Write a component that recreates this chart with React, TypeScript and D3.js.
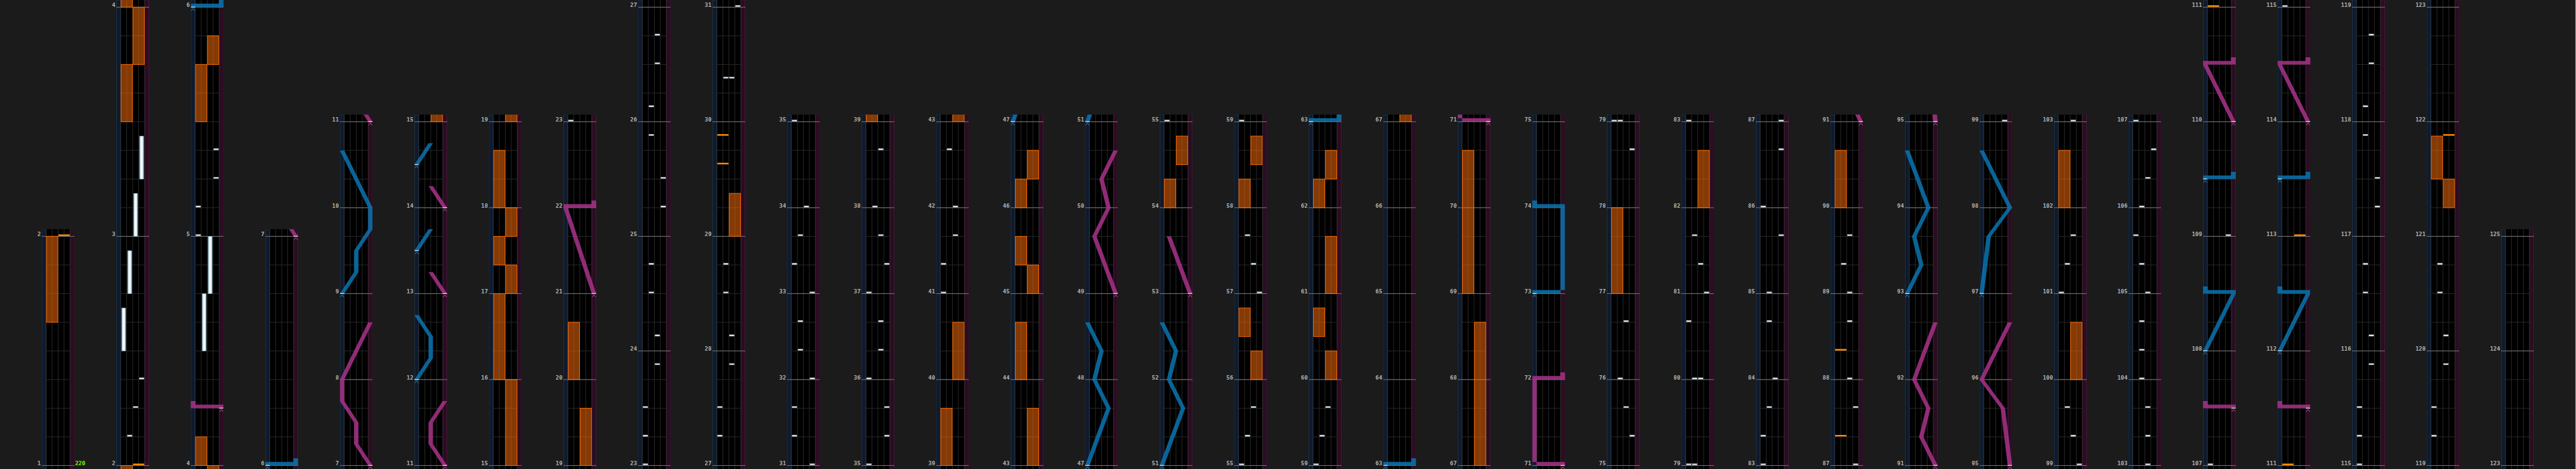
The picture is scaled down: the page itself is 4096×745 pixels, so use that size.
import React from 'react';
import * as d3 from 'd3';

// time signatures: [first measure, beats per measure]
const timeSigs: [number, number][] = [[1, 8], [7, 3], [23, 4], [31, 3], [107, 4]];
// measure numbers where each column starts (last one closes the final column)
const pageBreaks = [1, 2, 4, 6, 7, 11, 15, 19, 23, 27, 31, 35, 39, 43, 47, 51, 55, 59, 63, 67, 71, 75, 79, 83, 87, 91, 95, 99, 103, 107, 111, 115, 119, 123, 125];
const bpmMarks: [number, number, string][] = [[1, 0, '220']];

// [measure, beat, lane]
const btChips: [number, number, number][] = [
  [2, 1, 1], [2, 2, 2], [2, 3, 3],
  [5, 0, 0], [5, 1, 0], [5, 2, 3], [5, 3, 3],
  [23, 0, 0], [23, 1, 0], [23, 2, 0], [23, 3.5, 2], [24, 0.5, 2], [24, 2, 1], [24, 3, 1],
  [25, 1, 3], [25, 2, 3], [25, 3.5, 1], [26, 0.5, 1], [26, 2, 2], [26, 3, 2],
  [27, 1, 0], [27, 2, 0], [27, 3.5, 2], [28, 0.5, 2], [28, 2, 1], [28, 3, 1],
  [30, 1.5, 1], [30, 1.5, 2],
  [31, 0, 3], [31, 1, 0], [31, 2, 0], [32, 0, 3], [32, 1, 1], [32, 2, 1],
  [33, 0, 3], [33, 1, 0], [33, 2, 1], [34, 0, 2],
  [35, 0, 0], [35, 1, 3], [35, 2, 3], [36, 0, 0], [36, 1, 2], [36, 2, 2],
  [37, 0, 0], [37, 1, 3], [37, 2, 2], [38, 0, 1], [38, 2, 2],
  [41, 0, 0], [41, 1, 0], [41, 2, 2], [42, 0, 2], [42, 2, 1],
  [55, 0, 0], [55, 1, 1], [55, 2, 2], [57, 0, 3], [57, 1, 2], [57, 2, 1],
  [59, 0, 0], [59, 1, 1], [59, 2, 2],
  [75, 1, 3], [75, 2, 2], [76, 0, 1], [76, 2, 2], [78, 2, 3],
  [79, 0, 0], [79, 0, 1], [80, 0, 1], [80, 0, 2], [80, 2, 0],
  [81, 0, 3], [81, 1, 2], [81, 2, 1],
  [83, 0, 0], [83, 1, 0], [83, 2, 1], [84, 0, 2], [84, 2, 1], [85, 0, 1], [85, 2, 3], [86, 0, 0], [86, 2, 3],
  [87, 0, 3], [87, 2, 3], [88, 0, 2], [88, 2, 2], [89, 0, 2], [89, 1, 1], [89, 2, 2],
  [99, 0, 3], [99, 1, 2], [99, 2, 1], [101, 0, 0], [101, 1, 1], [101, 2, 2],
  [103, 0, 2], [103, 1, 2], [103, 2, 2], [104, 0, 1], [104, 1, 1], [104, 2, 1],
  [105, 0, 2], [105, 1, 1], [105, 2, 0], [106, 0, 1], [106, 1, 2], [106, 2, 3],
  [107, 0, 0], [109, 0, 3],
  [115, 0, 0], [115, 1, 0], [115, 2, 0], [115, 3.5, 2], [116, 0.5, 2], [116, 2, 1], [116, 3, 1],
  [117, 1, 3], [117, 2, 3], [117, 3.5, 1], [118, 0.5, 1], [118, 2, 2], [118, 3, 2],
  [119, 1, 0], [119, 2, 0], [119, 3.5, 2], [120, 0.5, 2], [120, 2, 1], [120, 3, 1],
];

// [measure, beat, length in beats, lane]
const btHolds: [number, number, number, number][] = [
  [2, 4, 1.5, 0], [2, 6, 1.5, 1], [3, 0, 1.5, 2], [3, 2, 1.5, 3], [4, 4, 2, 1], [4, 6, 2, 2],
];

// [measure, beat, side]
const fxChips: [number, number, number][] = [
  [2, 0, 1], [29, 2.5, 0], [29, 3.5, 0], [87, 1, 0], [88, 1, 0], [111, 0, 0], [113, 0, 1], [121, 3.5, 1],
];

// [measure, beat, length in beats, side]
const fxHolds: [number, number, number, number][] = [
  [1, 5, 3, 0], [3, 4, 2, 0], [3, 6, 2, 1], [4, 0, 1, 0], [5, 4, 2, 0], [5, 6, 1, 1],
  [15, 0, 3, 1], [16, 0, 3, 0], [17, 0, 1, 1], [17, 1, 1, 0], [17, 2, 1, 1], [18, 0, 2, 0],
  [19, 0, 2, 1], [20, 0, 2, 0], [29, 0, 1.5, 1],
  [39, 0, 2, 0], [40, 0, 2, 1], [43, 0, 2, 1], [44, 0, 2, 0], [45, 0, 1, 1], [45, 1, 1, 0],
  [46, 0, 1, 0], [46, 1, 1, 1], [54, 0, 1, 0], [54, 1.5, 1, 1],
  [56, 0, 1, 1], [56, 1.5, 1, 0], [58, 0, 1, 0], [58, 1.5, 1, 1],
  [60, 0, 1, 1], [60, 1.5, 1, 0], [61, 0, 2, 1], [62, 0, 1, 0], [62, 1, 1, 1],
  [67, 0, 5, 1], [69, 0, 5, 0], [77, 0, 3, 0], [82, 0, 2, 1], [90, 0, 2, 0],
  [100, 0, 2, 1], [102, 0, 2, 0], [121, 1, 1, 1], [121, 2, 1.5, 0],
];

// lasers: L = blue (left knob), R = pink (right knob); points [measure, beat, position 0..1]
const lasers: { side: 'L' | 'R'; pts: [number, number, number][] }[] = [
  { side: 'R', pts: [[4, 2, 1], [4, 2, 0]] },
  { side: 'L', pts: [[6, 0, 0], [6, 0, 1]] },
  { side: 'R', pts: [[7, 0, 1], [7, 0.75, 0.5], [7, 1.5, 0.5], [7, 2.25, 0], [8, 0, 0], [8, 2, 1]] },
  { side: 'L', pts: [[9, 0, 0], [9, 0.75, 0.5], [9, 1.5, 0.5], [9, 2.25, 1], [10, 0, 1], [10, 2, 0]] },
  { side: 'R', pts: [[11, 0, 1], [11, 0.75, 0.5], [11, 1.5, 0.5], [11, 2.25, 1]] },
  { side: 'L', pts: [[12, 0, 0], [12, 0.75, 0.5], [12, 1.5, 0.5], [12, 2.25, 0]] },
  { side: 'R', pts: [[13, 0, 1], [13, 0.75, 0.5]] },
  { side: 'L', pts: [[13, 1.5, 0], [13, 2.25, 0.5]] },
  { side: 'R', pts: [[14, 0, 1], [14, 0.75, 0.5]] },
  { side: 'L', pts: [[14, 1.5, 0], [14, 2.25, 0.5]] },
  { side: 'R', pts: [[21, 0, 1], [22, 0, 0], [22, 0, 1]] },
  { side: 'L', pts: [[47, 0, 0], [47, 2, 0.75], [48, 0, 0.25], [48, 1, 0.5], [48, 2, 0]] },
  { side: 'R', pts: [[49, 0, 1], [49, 2, 0.25], [50, 0, 0.75], [50, 1, 0.5], [50, 2, 1]] },
  { side: 'L', pts: [[51, 0, 0], [51, 2, 0.75], [52, 0, 0.25], [52, 1, 0.5], [52, 2, 0]] },
  { side: 'R', pts: [[53, 0, 1], [53, 2, 0.25]] },
  { side: 'L', pts: [[63, 0, 0], [63, 0, 1]] },
  { side: 'R', pts: [[71, 0, 1], [71, 0, 0], [72, 0, 0], [72, 0, 1]] },
  { side: 'L', pts: [[73, 0, 0], [73, 0, 1], [74, 0, 1], [74, 0, 0]] },
  { side: 'R', pts: [[91, 0, 1], [91, 1, 0.5], [91, 2, 0.75], [92, 0, 0.25], [92, 2, 1]] },
  { side: 'L', pts: [[93, 0, 0], [93, 1, 0.5], [93, 2, 0.25], [94, 0, 0.75], [94, 2, 0]] },
  { side: 'R', pts: [[95, 0, 1], [95, 2, 0.75], [96, 0, 0], [96, 2, 1]] },
  { side: 'L', pts: [[97, 0, 0], [97, 2, 0.25], [98, 0, 1], [98, 2, 0]] },
  { side: 'R', pts: [[107, 2, 1], [107, 2, 0]] },
  { side: 'L', pts: [[108, 0, 0], [108, 2, 1], [108, 2, 0]] },
  { side: 'L', pts: [[109, 2, 0], [109, 2, 1]] },
  { side: 'R', pts: [[110, 0, 1], [110, 2, 0], [110, 2, 1]] },
  { side: 'R', pts: [[111, 2, 1], [111, 2, 0]] },
  { side: 'L', pts: [[112, 0, 0], [112, 2, 1], [112, 2, 0]] },
  { side: 'L', pts: [[113, 2, 0], [113, 2, 1]] },
  { side: 'R', pts: [[114, 0, 1], [114, 2, 0], [114, 2, 1]] },
];

const W = 4320;
const H = 786;
const S = 0.948;
const BEAT = 48;
const BASE = 780;
const COLW = 55;
const STRIP = 7.5;
const LANE = 10;

const beatsIn = (m: number) => {
  let n = timeSigs[0][1];
  for (const [s, b] of timeSigs) if (m >= s) n = b;
  return n;
};
const measureStart: number[] = [];
{
  let acc = 0;
  for (let m = 1; m <= 130; m++) {
    measureStart[m] = acc;
    acc += beatsIn(m);
  }
}
const abs = (m: number, b: number) => measureStart[m] + b;

const colX = d3.scaleLinear().domain([0, 1]).range([70, 195]);
const laneX = d3.scaleLinear().domain([0, 4]).range([STRIP, STRIP + 4 * LANE]);
const laserX = d3.scaleLinear().domain([0, 1]).range([STRIP / 2, COLW - STRIP / 2]);

const columns = d3.pairs(pageBreaks).map(([a, b], i) => {
  const s = abs(a, 0);
  const e = abs(b, 0);
  const y = d3.scaleLinear().domain([s, e]).range([BASE, BASE - BEAT * (e - s)]);
  return { i, a, b, s, e, x: colX(i), y, top: y(e) - 12 };
});

const COLORS = {
  bg: '#1b1b1b',
  lane: '#2b2b2b',
  beat: '#2b2b2b',
  measure: '#808080',
  L: '#0b74b0',
  R: '#a9328a',
  Lmark: '#3a86b8',
  Rmark: '#c0569c',
};

function laserPath(pts: [number, number, number][], y: (t: number) => number) {
  const p = d3.path();
  const hw = STRIP / 2;
  for (let k = 0; k < pts.length - 1; k++) {
    const [m1, b1, v1] = pts[k];
    const [m2, b2, v2] = pts[k + 1];
    const t1 = abs(m1, b1);
    const t2 = abs(m2, b2);
    if (t1 === t2) {
      const yy = y(t1);
      const x1 = Math.min(laserX(v1), laserX(v2)) - hw;
      const x2 = Math.max(laserX(v1), laserX(v2)) + hw;
      p.rect(x1, yy - 6, x2 - x1, 6);
      if (k + 1 === pts.length - 1) {
        p.rect(laserX(v2) - hw - 0.5, yy - 12, STRIP + 1, 12);
      }
    } else {
      const y1 = y(t1);
      const y2 = y(t2);
      const c1 = laserX(v1);
      const c2 = laserX(v2);
      p.moveTo(c1 - hw, y1);
      p.lineTo(c1 + hw, y1);
      p.lineTo(c2 + hw, y2);
      p.lineTo(c2 - hw, y2);
      p.closePath();
    }
  }
  return p.toString();
}

function Column({ c }: { c: (typeof columns)[number] }) {
  const lo = c.s - 1;
  const hi = c.e + 1;
  const beatLines = d3.range(Math.ceil(c.s), c.e + 0.001, 1);
  const measures = d3.range(c.a, c.b + 1);
  const inView = (t0: number, t1: number) => t1 >= lo && t0 <= hi;
  return (
    <g transform={`translate(${c.x},0)`}>
      <clipPath id={`clip${c.i}`}>
        <rect x={0} y={c.top} width={COLW} height={H - c.top + 20} />
      </clipPath>
      <g clipPath={`url(#clip${c.i})`}>
        <rect x={0} y={c.top} width={COLW} height={H} fill="#000" />
        <rect x={0.5} y={c.top} width={STRIP - 1} height={H} fill="#0f1a2d" stroke="#1f3a54" strokeWidth={1} />
        <rect x={COLW - STRIP + 0.5} y={c.top} width={STRIP - 1} height={H} fill="#2a0d20" stroke="#47183a" strokeWidth={1} />
        {d3.range(0, 5).map((k) => (
          <line key={`l${k}`} x1={laneX(k)} x2={laneX(k)} y1={c.top} y2={H + 10} stroke={COLORS.lane} strokeWidth={1} />
        ))}
        {beatLines.map((t) => (
          <line key={`b${t}`} x1={laneX(0)} x2={laneX(4)} y1={c.y(t)} y2={c.y(t)} stroke={COLORS.beat} strokeWidth={1} />
        ))}
        {measures.map((m) => (
          <line key={`m${m}`} x1={0} x2={COLW} y1={c.y(abs(m, 0))} y2={c.y(abs(m, 0))} stroke={COLORS.measure} strokeWidth={1} />
        ))}
        {fxHolds.filter(([m, b, len]) => inView(abs(m, b), abs(m, b) + len)).map(([m, b, len, side], k) => {
          const t = abs(m, b);
          return (
            <rect key={`fh${k}`} x={laneX(side * 2) + 0.5} y={c.y(t + len)} width={2 * LANE - 1} height={c.y(t) - c.y(t + len)}
              fill="rgba(255,112,10,0.52)" stroke="#ff6c00" strokeWidth={1} />
          );
        })}
        {btHolds.filter(([m, b, len]) => inView(abs(m, b), abs(m, b) + len)).map(([m, b, len, lane], k) => {
          const t = abs(m, b);
          return (
            <rect key={`bh${k}`} x={laneX(lane) + 1.6} y={c.y(t + len)} width={6.8} height={c.y(t) - c.y(t + len)}
              fill="url(#btHold)" stroke="#86a9bb" strokeWidth={0.6} />
          );
        })}
        {fxChips.filter(([m, b]) => inView(abs(m, b), abs(m, b))).map(([m, b, side], k) => (
          <rect key={`fc${k}`} x={laneX(side * 2) + 0.5} y={c.y(abs(m, b)) - 3.2} width={2 * LANE - 1} height={2.6} fill="url(#fxChip)" />
        ))}
        {btChips.filter(([m, b]) => inView(abs(m, b), abs(m, b))).map(([m, b, lane], k) => (
          <rect key={`bc${k}`} x={laneX(lane) + 0.9} y={c.y(abs(m, b)) - 3.1} width={8.2} height={2.4}
            fill="#eef3f6" stroke="#7d90a0" strokeWidth={0.6} />
        ))}
        {lasers.filter((l) => inView(abs(l.pts[0][0], l.pts[0][1]), abs(l.pts[l.pts.length - 1][0], l.pts[l.pts.length - 1][1]))).map((l, k) => {
          const [m0, b0, v0] = l.pts[0];
          const y0 = c.y(abs(m0, b0));
          const cx = laserX(v0);
          return (
            <g key={`ls${k}`}>
              <path d={laserPath(l.pts, c.y)} fill={COLORS[l.side]} opacity={0.85} />
              <rect x={cx - 3.5} y={y0 - 0.8} width={7} height={1.3} fill="#e6e6e6" />
              <path d={`M${cx - 3},${y0 + 6}L${cx},${y0 + 2}L${cx + 3},${y0 + 6}`} fill="none"
                stroke={l.side === 'L' ? COLORS.Lmark : COLORS.Rmark} strokeWidth={1} />
            </g>
          );
        })}
      </g>
      {measures.map((m) => (
        <text key={`t${m}`} x={-1.5} y={c.y(abs(m, 0))} textAnchor="end" fontFamily="'DejaVu Sans Mono', monospace"
          fontWeight="bold" fontSize={9.5} fill="#b0b0b0">{m}</text>
      ))}
      {bpmMarks.filter(([m, b]) => abs(m, b) >= c.s && abs(m, b) < c.e).map(([m, b, txt]) => (
        <text key={`bpm${m}`} x={COLW + 1} y={c.y(abs(m, b))} fontFamily="'DejaVu Sans Mono', monospace"
          fontWeight="bold" fontSize={9.5} fill="#7cf000">{txt}</text>
      ))}
    </g>
  );
}

export default function App() {
  return (
    <svg width={4096} height={745} style={{ position: 'absolute', left: 0, top: 0, display: 'block' }}>
      <defs>
        <linearGradient id="btHold" x1="0" x2="1" y1="0" y2="0">
          <stop offset="0%" stopColor="#9bbccb" />
          <stop offset="35%" stopColor="#f4fbff" />
          <stop offset="65%" stopColor="#f4fbff" />
          <stop offset="100%" stopColor="#9bbccb" />
        </linearGradient>
        <linearGradient id="fxChip" x1="0" x2="0" y1="0" y2="1">
          <stop offset="0%" stopColor="#ff7a00" />
          <stop offset="50%" stopColor="#ffa400" />
          <stop offset="100%" stopColor="#ff7a00" />
        </linearGradient>
      </defs>
      <g transform={`scale(${S})`}>
        <rect x={0} y={0} width={W} height={H} fill={COLORS.bg} />
        {columns.map((c) => (
          <Column key={c.i} c={c} />
        ))}
      </g>
    </svg>
  );
}
